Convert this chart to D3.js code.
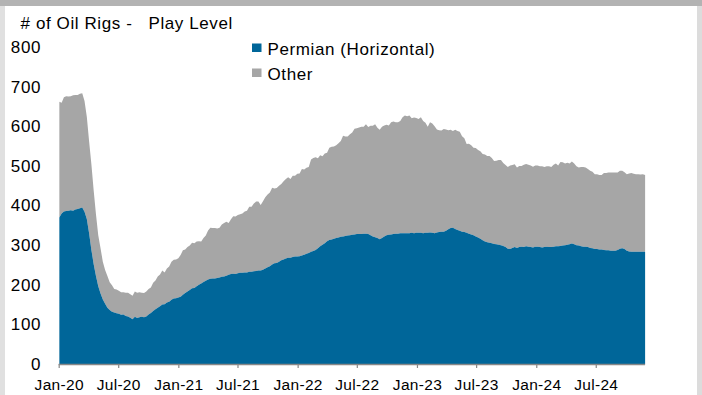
<!DOCTYPE html>
<html>
<head>
<meta charset="utf-8">
<script src="https://cdn.jsdelivr.net/npm/d3@7"></script>
<style>
  html, body { margin: 0; padding: 0; background: #ffffff; }
  svg { display: block; font-family: "Liberation Sans", Arial, sans-serif; }
</style>
</head>
<body>
<svg id="chart" width="702" height="395"></svg>
<script>
// Weekly US oil rig counts, Friday releases from the first week of 2020
const firstWeek = "2020-01-03";

// Permian basin, horizontal rigs
const permian = [
  // 2020
  370,380,385,386,387, 388,387,390,391, 393,395,384,366, 330,288,252,222,
  196,178,163,152,142, 136,132,130,128, 127,124,125,121,120, 117,113,119,116,
  118,119,118,120, 125,129,134,138,142, 146,150,151,155, 157,162,165,166,
  // 2021
  168,170,175,179,183, 187,191,192,196, 200,203,207,210, 213,215,216,216,217,
  218,220,221,223, 225,227,228,227, 229,230,230,231,231, 233,233,234,235,
  236,236,238,241, 244,247,251,254,255, 258,262,264,266, 268,268,270,271,271,
  // 2022
  272,274,276,278, 280,283,285,288, 292,297,301,305, 310,313,314,316,318,
  319,321,322,323, 324,325,326,327, 328,328,328,329,329, 328,325,322,320,
  318,315,318,322,325, 326,327,328,329, 329,330,330,330, 330,330,331,330,331,
  // 2023
  331,331,330,331, 331,332,331,330, 332,333,334,334,336, 340,343,344,341,
  338,336,334,333, 331,329,327,325,322, 319,316,312,309, 307,306,305,303,
  302,301,300,298,295, 291,290,293,295, 293,295,296,295, 297,296,295,294,296,
  // 2024
  296,295,294,295, 296,295,295,296, 297,297,298,299,300, 301,302,304,302,
  300,299,297,296,296, 295,293,292,290, 290,289,289,288, 287,287,286,286,286,
  288,291,292,290, 286,284,283,283, 283,283,283,283,283
];

// All oil rigs (Permian horizontal + other plays)
const totalRigs = [
  // 2020
  662,659,673,676,675, 676,678,679,679, 682,683,664,624, 562,504,438,378,
  325,292,258,237,222, 206,199,189,188, 185,181,181,180,180, 176,172,183,180,
  181,180,179,183, 189,193,205,211,221, 226,236,231,241, 246,258,263,264,
  // 2021
  267,275,287,289,295, 299,306,305,309, 310,309,318,324, 337,344,343,343,342,
  344,352,356,359, 356,365,373,372, 376,378,380,385,387, 397,397,405,410,
  410,401,411,421, 428,433,445,443,444, 450,454,461,467, 471,467,475,475,480,
  // 2022
  481,492,491,495, 497,516,520,522, 519,527,524,531, 533,546,548,549,552,
  557,563,576,574, 574,580,584,594, 595,597,599,599,605, 598,601,601,605,
  596,591,599,602,604, 602,610,612,610, 610,613,623,627, 625,627,620,622,621,
  // 2023
  618,623,613,609, 599,610,607,600, 592,590,589,593,592, 590,591,588,591,
  588,586,575,570, 555,556,552,546,545, 540,537,530,529, 525,525,520,512,
  513,515,515,507,502, 497,501,502,504, 496,500,500,503, 505,503,501,498,501,
  // 2024
  501,499,499,497, 499,499,497,503, 506,501,510,509,506, 508,506,511,506,
  499,496,497,497,496, 492,488,485,479, 479,477,477,482, 482,483,483,483,483,
  483,488,488,484, 479,481,482,480, 479,479,478,479,477
];

const seriesNames = ["Permian (Horizontal)", "Other"];
const seriesColors = ["#006699", "#a6a6a6"];

const xTickLabels = ["Jan-20","Jul-20","Jan-21","Jul-21","Jan-22","Jul-22","Jan-23","Jul-23","Jan-24","Jul-24"];
const yTicks = [0,100,200,300,400,500,600,700,800];

const titleText = "# of Oil Rigs -   Play Level";

// ---- build rows ----
const start = d3.timeParse("%Y-%m-%d")(firstWeek);
const rows = permian.map((p, i) => ({
  date: d3.timeDay.offset(start, 7 * i),
  permian: p,
  total: totalRigs[i]
}));

const parseTick = d3.timeParse("%b-%y");
const tickDates = xTickLabels.map(parseTick);

const svg = d3.select("#chart");
const W = 702, H = 395;

// frame bands around the panel
svg.append("rect").attr("x", 0).attr("y", 0).attr("width", W).attr("height", H).attr("fill", "#ffffff");
svg.append("rect").attr("x", 0).attr("y", 0).attr("width", 5).attr("height", H).attr("fill", "#e0e0e0");
svg.append("rect").attr("x", 697).attr("y", 0).attr("width", 5).attr("height", H).attr("fill", "#dcdcdc");
svg.append("rect").attr("x", 0).attr("y", 0).attr("width", W).attr("height", 6).attr("fill", "#b3b3b3");

// scales
const x = d3.scaleTime()
  .domain([new Date(2020, 0, 1), new Date(2025, 0, 1)])
  .range([58.7, 655.9]);
const y = d3.scaleLinear().domain([0, 800]).range([364, 47]);

// Other = band between Permian and total
const otherArea = d3.area()
  .x(d => x(d.date))
  .y0(d => y(d.permian))
  .y1(d => y(d.total));
const permianArea = d3.area()
  .x(d => x(d.date))
  .y0(y(0))
  .y1(d => y(d.permian));

svg.append("path").datum(rows).attr("d", otherArea).attr("fill", seriesColors[1]);
svg.append("path").datum(rows).attr("d", permianArea).attr("fill", seriesColors[0]);

// y axis labels (no line, no ticks)
const yAxis = svg.append("g")
  .attr("transform", "translate(41,0)")
  .call(d3.axisLeft(y).tickValues(yTicks).tickSize(0).tickPadding(0).tickFormat(d3.format("d")));
yAxis.select(".domain").remove();
yAxis.selectAll("text")
  .attr("font-size", 17)
  .attr("font-family", "Liberation Sans, Arial, sans-serif")
  .attr("fill", "#000")
  .style("letter-spacing", "0.6px");

// x axis
const xAxis = svg.append("g")
  .attr("transform", `translate(0,${y(0)})`)
  .call(d3.axisBottom(x).tickValues(tickDates).tickSize(4).tickPadding(11)
    .tickFormat((d, i) => xTickLabels[i]));
xAxis.select(".domain").remove();
xAxis.selectAll(".tick line").attr("stroke", "#888888").attr("stroke-width", 1.2);
xAxis.selectAll("text")
  .attr("font-size", 15.5)
  .attr("font-family", "Liberation Sans, Arial, sans-serif")
  .attr("fill", "#000")
  .style("letter-spacing", "0.3px");
xAxis.append("line")
  .attr("x1", x(tickDates[0]))
  .attr("x2", x(rows[rows.length - 1].date))
  .attr("y1", 0.5).attr("y2", 0.5)
  .attr("stroke", "#888888")
  .attr("stroke-width", 1.5);

// title
svg.append("text")
  .attr("x", 20.5)
  .attr("y", 29)
  .attr("font-size", 17)
  .attr("fill", "#000")
  .style("white-space", "pre")
  .style("letter-spacing", "0.6px")
  .text(titleText);

// legend
const legend = svg.append("g").attr("transform", "translate(252,0)");
seriesNames.forEach((name, i) => {
  const cy = 48 + i * 25;
  legend.append("rect")
    .attr("x", 0).attr("y", cy - 4.5)
    .attr("width", 9.5).attr("height", 8.5)
    .attr("fill", seriesColors[i]);
  legend.append("text")
    .attr("x", 15.5).attr("y", cy + 6.5)
    .attr("font-size", 17)
    .attr("fill", "#000")
    .style("letter-spacing", "0.6px")
    .text(name);
});
</script>
</body>
</html>
